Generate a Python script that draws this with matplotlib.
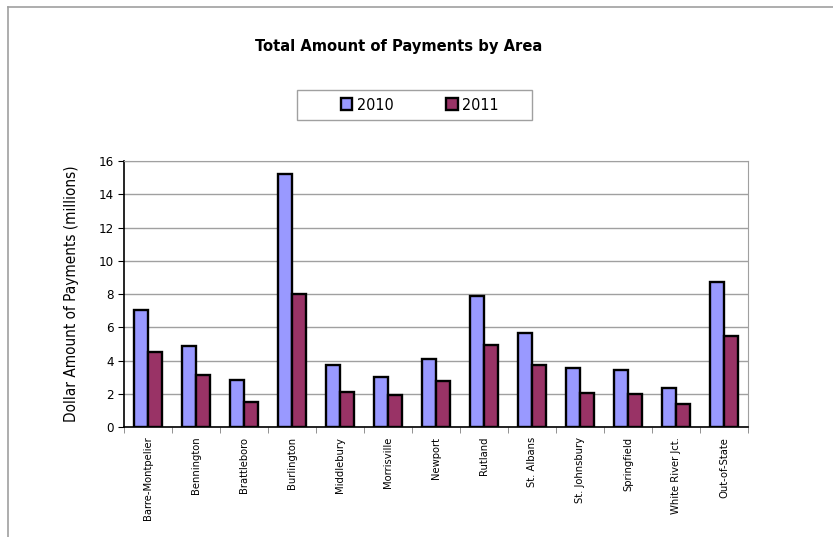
import numpy as np
import matplotlib.pyplot as plt
from matplotlib.lines import Line2D
from matplotlib.patches import Rectangle

areas = ["Barre-Montpelier", "Bennington", "Brattleboro", "Burlington", "Middlebury",
         "Morrisville", "Newport", "Rutland", "St. Albans", "St. Johnsbury",
         "Springfield", "White River Jct.", "Out-of-State"]
pay_2010 = [7.05, 4.9, 2.8, 15.2, 3.7, 3.0, 4.1, 7.85, 5.65, 3.55, 3.45, 2.35, 8.7]
pay_2011 = [4.5, 3.13, 1.5, 8.0, 2.1, 1.95, 2.75, 4.95, 3.7, 2.05, 2.0, 1.38, 5.45]
yticks = [0, 2, 4, 6, 8, 10, 12, 14, 16]

plt.rcParams['font.family'] = ['DejaVu Sans']
plt.rcParams['font.stretch'] = 'condensed'

fig = plt.figure(figsize=(8.33, 5.37), dpi=100)
ax = fig.add_axes([124/833, 1 - 427/537, 624/833, 266/537])

# outer chart frame
fig.add_artist(Line2D([8/833, 8/833], [0, 1 - 7/537], color="#a0a0a0", lw=1.2))
fig.add_artist(Line2D([8/833, 1], [1 - 7/537, 1 - 7/537], color="#a0a0a0", lw=1.2))

x = np.arange(len(areas))
w = 0.29
ax.bar(x - w/2, pay_2010, w, color="#9999ff", edgecolor="black", lw=1.7, label="2010", zorder=3)
ax.bar(x + w/2, pay_2011, w, color="#993366", edgecolor="black", lw=1.7, label="2011", zorder=3)

ax.set_xlim(-0.5, len(areas) - 0.5)
ax.set_ylim(0, 16)
ax.set_yticks(yticks)
ax.yaxis.grid(True, color="#a0a0a0", lw=1)
ax.tick_params(axis="y", labelsize=9.5, length=4, direction="out")

ax.set_xticks(x)
ax.set_xticklabels(areas, rotation=90, fontsize=8)
ax.tick_params(axis="x", length=0, pad=7)
ax.set_xticks(np.arange(len(areas) + 1) - 0.5, minor=True)
ax.tick_params(axis="x", which="minor", length=4, color="#808080")

for s in ["top", "right"]:
    ax.spines[s].set_color("#a0a0a0")
ax.spines["left"].set_linewidth(1.2)
ax.spines["bottom"].set_linewidth(1.2)

ax.set_ylabel("Dollar Amount of Payments (millions)", fontsize=11, labelpad=14)

fig.text(399/833, 1 - 46/537, "Total Amount of Payments by Area", ha="center", va="center",
         fontsize=11.8, fontweight="bold")

# legend box
fig.add_artist(Rectangle((297/833, 1 - 120/537), 235/833, 30/537, transform=fig.transFigure,
                         facecolor="white", edgecolor="#a0a0a0", lw=1))
leg = fig.legend(loc="center", bbox_to_anchor=(420/833, 1 - 105/537), ncol=2, frameon=False,
                 fontsize=11.5, handlelength=0.7, handleheight=0.7, handletextpad=0.3,
                 columnspacing=3.3)

plt.savefig("out.png", dpi=100)
